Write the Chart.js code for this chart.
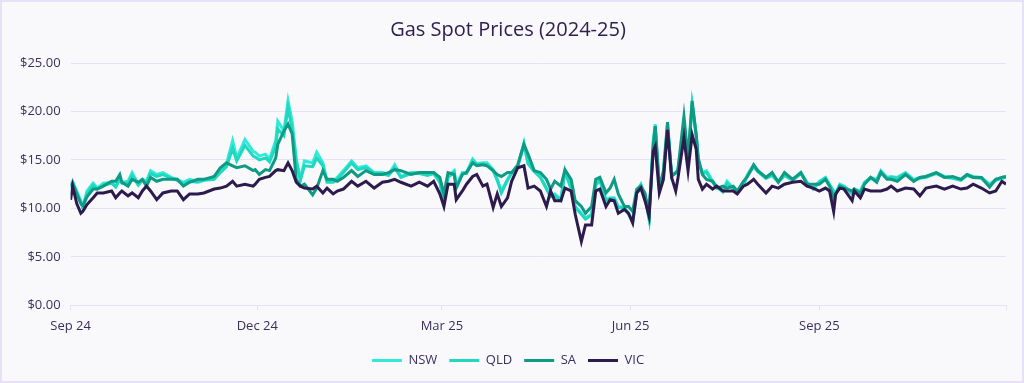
<!DOCTYPE html>
<html>
<head>
<meta charset="utf-8">
<title>Gas Spot Prices (2024-25)</title>
<script src="https://cdn.jsdelivr.net/npm/chart.js@4.4.1/dist/chart.umd.min.js"></script>
<style>
  html, body { margin: 0; padding: 0; background: #f9f9fb; }
  .frame { position: relative; width: 1024px; height: 383px; box-sizing: border-box; border: 2px solid #e6e0f8; background: #f9f9fb; }
  canvas { display: block; }
</style>
</head>
<body>
<div class="frame"><canvas id="gasChart"></canvas></div>
<script>
// days since 1 Sep 2024 for each sample
const sampleDays = [0,1,3,5,6,8,11,13,16,20,
  22,24,25,28,30,33,35,37,39,42,
  45,49,52,55,58,62,65,70,73,76,
  79,81,85,89,90,92,95,97,100,101,
  104,106,108,110,112,114,118,120,123,125,
  128,130,133,137,140,144,148,152,155,158,
  161,166,170,174,177,180,182,184,187,188,
  191,193,196,198,201,203,206,208,210,213,
  215,218,221,223,226,229,232,234,236,239,
  241,244,246,249,251,254,256,258,261,263,
  265,267,270,272,274,276,278,280,282,284,
  285,287,289,291,293,295,296,299,301,303,
  305,306,308,310,313,315,318,320,323,325,
  328,330,333,335,339,342,345,348,352,356,
  359,362,365,368,370,372,373,375,377,381,
  382,385,387,390,393,395,398,400,403,407,
  411,414,417,422,426,430,434,437,440,444,
  448,451,454,456];

const nswPrices = [12.3,12.8,11.8,10.8,10.2,11.8,12.6,12.1,12.6,12.7,
  12.3,13.2,12.7,12.8,13.7,12.5,13.0,12.8,13.9,13.5,
  13.7,13.2,13.0,12.7,13.0,12.8,13.0,13.2,13.9,14.6,
  17.0,15.2,17.1,15.9,15.8,15.4,15.6,15.1,17.0,19.0,
  18.0,21.1,19.0,15.2,13.0,14.9,14.7,15.8,14.7,12.8,
  12.8,13.2,13.9,14.9,14.2,14.4,13.7,13.7,13.5,14.5,
  13.3,13.7,13.7,13.5,13.7,12.8,10.8,13.3,13.9,12.3,
  13.7,13.7,15.1,14.6,14.7,14.7,14.0,13.0,11.8,13.0,
  13.7,14.4,16.8,14.7,13.9,13.3,12.1,11.3,11.5,10.9,
  13.9,12.1,10.2,9.5,9.0,9.4,12.5,13.0,10.9,11.1,
  11.1,10.2,10.1,9.5,8.7,11.8,12.5,11.3,9.0,17.0,
  18.7,12.3,13.5,18.7,13.5,13.7,13.9,18.7,15.0,20.8,
  17.7,14.9,13.7,13.9,12.8,12.3,11.8,12.8,12.1,11.8,
  12.5,13.5,14.5,13.9,13.2,13.5,12.8,13.5,13.0,13.7,
  12.7,12.1,12.8,13.2,12.5,11.8,11.6,12.5,12.3,11.6,
  12.0,11.8,12.7,13.2,13.0,13.9,13.2,13.3,13.2,13.7,
  13.0,13.2,13.3,13.7,13.3,13.2,13.0,13.5,13.3,13.2,
  12.5,13.0,13.2,13.3];

const qldPrices = [12.1,12.6,11.6,10.6,10.0,11.5,12.4,12.0,12.4,12.6,
  12.2,13.0,12.6,12.6,13.4,12.4,12.9,12.6,13.6,13.3,
  13.5,13.1,12.9,12.5,12.8,12.7,12.9,13.0,13.7,14.3,
  16.2,14.9,16.5,15.4,15.3,15.0,15.2,14.8,16.4,18.2,
  17.5,20.4,18.2,14.8,12.9,14.4,14.3,15.2,14.4,12.7,
  12.7,13.0,13.7,14.7,14.0,14.2,13.6,13.6,13.4,14.2,
  13.2,13.6,13.6,13.4,13.6,12.7,10.6,13.2,13.7,12.2,
  13.6,13.6,14.9,14.5,14.6,14.5,13.9,12.9,11.6,12.9,
  13.6,14.3,16.6,14.6,13.8,13.2,12.0,11.2,11.3,10.8,
  13.8,12.0,10.1,9.4,8.9,9.3,12.4,12.9,10.8,11.0,
  11.0,10.1,10.0,9.4,8.6,11.7,12.4,11.2,8.9,16.6,
  18.4,12.2,13.4,18.4,13.4,13.6,13.8,18.5,14.9,20.6,
  17.5,14.8,13.6,13.7,12.7,12.2,11.7,12.6,12.0,11.7,
  12.4,13.4,14.3,13.8,13.1,13.4,12.7,13.4,12.9,13.6,
  12.6,12.0,12.7,13.1,12.4,11.7,11.5,12.4,12.2,11.5,
  11.9,11.7,12.6,13.1,12.9,13.8,13.1,13.2,13.1,13.6,
  12.9,13.1,13.2,13.6,13.2,13.1,12.9,13.4,13.2,13.1,
  12.4,12.9,13.1,13.2];

const saPrices = [12.4,12.6,11.5,10.5,10.3,11.2,12.0,12.0,12.3,12.8,
  12.8,13.5,12.7,12.3,13.0,12.7,13.0,12.3,13.2,12.8,
  13.0,13.0,13.0,12.3,12.7,13.0,13.0,13.3,14.2,14.7,
  14.4,14.2,14.4,13.9,14.0,13.5,14.0,13.9,15.2,16.6,
  18.0,18.7,17.7,13.0,12.3,12.5,11.4,12.1,13.9,13.0,
  13.0,12.8,13.2,13.9,13.3,13.9,13.5,13.5,13.7,14.0,
  13.9,13.5,13.7,13.7,13.7,13.2,11.5,13.7,13.5,12.1,
  13.5,13.7,14.7,14.4,14.5,14.4,13.9,13.5,13.3,13.7,
  13.7,14.5,16.6,15.6,13.9,13.7,13.0,12.0,12.8,12.3,
  14.0,13.0,10.8,10.2,9.5,10.2,13.0,13.2,11.6,12.1,
  13.0,11.5,10.2,10.2,9.7,12.0,12.3,11.6,9.4,16.3,
  18.5,12.1,13.9,18.9,13.3,13.7,13.9,19.5,15.2,21.1,
  17.5,15.2,13.5,13.0,12.8,12.1,12.3,12.1,12.3,11.8,
  12.8,13.3,14.5,13.9,13.2,13.7,12.7,13.7,13.0,13.7,
  12.5,12.5,12.5,13.0,12.3,11.1,11.5,12.3,12.1,11.8,
  12.0,11.5,12.5,13.2,12.7,13.7,13.0,13.0,12.8,13.5,
  12.8,13.2,13.3,13.7,13.2,13.3,13.0,13.5,13.2,13.2,
  12.2,13.0,13.2,13.3];

const vicPrices = [10.9,12.3,10.5,9.5,9.7,10.4,11.1,11.6,11.6,11.8,
  11.1,11.6,11.8,11.3,11.6,11.1,11.8,12.3,11.8,10.9,
  11.6,11.8,11.8,10.9,11.5,11.5,11.6,12.0,12.1,12.3,
  12.8,12.3,12.5,12.3,12.5,13.0,13.2,13.3,13.9,14.0,
  13.9,14.7,13.9,12.7,12.3,12.1,12.0,12.3,11.6,12.1,
  11.5,11.8,12.0,12.8,12.3,12.8,12.1,12.7,12.8,13.0,
  12.7,12.3,12.7,12.3,12.8,11.5,10.2,12.5,12.5,10.9,
  11.8,12.5,13.3,13.5,12.3,12.5,10.1,11.5,10.2,11.1,
  12.8,14.2,14.4,12.1,12.3,11.8,10.2,11.8,10.8,10.8,
  12.1,11.8,9.4,6.6,8.3,8.3,11.8,12.0,10.2,10.9,
  10.8,9.5,9.9,9.5,8.5,11.6,12.1,10.8,9.2,15.9,
  16.4,11.6,13.0,18.1,13.2,11.8,13.0,17.3,13.9,17.6,
  16.1,13.0,12.0,12.5,12.0,12.3,11.8,11.8,11.8,11.5,
  12.3,12.5,13.0,12.5,11.6,12.3,12.1,12.5,12.7,12.8,
  12.3,12.1,11.8,12.1,11.8,9.7,11.5,12.1,12.0,10.8,
  11.8,11.1,12.0,11.8,11.8,11.8,12.0,12.3,11.8,12.1,
  12.0,11.3,12.1,12.3,12.0,12.3,12.0,12.1,12.5,12.1,
  11.6,11.8,12.8,12.5];

// quarter starts (days since 1 Sep 2024) and their tick labels
const quarterDays = [0, 91, 181, 273, 365, 456];
const quarterLabels = ['Sep 24', 'Dec 24', 'Mar 25', 'Jun 25', 'Sep 25', ''];

const textColor = '#3b2f5c';
const gridColor = '#e7e1f7';
const fontFamily = '"Open Sans", "Noto Sans", sans-serif';

function points(values) {
    return sampleDays.map((d, i) => ({ x: d, y: values[i] }));
}

function series(label, values, color, order) {
    return {
        label: label,
        data: points(values),
        borderColor: color,
        backgroundColor: color,
        borderWidth: 3,
        pointRadius: 0,
        tension: 0,
        order: order
    };
}

const ctx = document.getElementById('gasChart').getContext('2d');
new Chart(ctx, {
    type: 'line',
    data: {
        datasets: [
            series('NSW', nswPrices, '#33e9d9', 4),
            series('QLD', qldPrices, '#1fd8c0', 3),
            series('SA', saPrices, '#0f9a83', 2),
            series('VIC', vicPrices, '#2d1b4e', 1)
        ]
    },
    options: {
        responsive: true,
        maintainAspectRatio: false,
        animation: false,
        layout: { padding: { left: 8, right: 16, top: 0, bottom: 4 } },
        plugins: {
            title: {
                display: true,
                text: 'Gas Spot Prices (2024-25)',
                color: '#2e2150',
                font: { family: fontFamily, size: 20, weight: 'normal' },
                padding: { top: 16, bottom: 21 }
            },
            legend: {
                position: 'bottom',
                labels: {
                    color: textColor,
                    font: { family: fontFamily, size: 13 },
                    usePointStyle: true,
                    pointStyle: 'line',
                    pointStyleWidth: 30,
                    padding: 12,
                    sort: (a, b) => a.datasetIndex - b.datasetIndex
                }
            },
            tooltip: { enabled: false }
        },
        scales: {
            x: {
                type: 'linear',
                min: 0,
                max: 456,
                afterBuildTicks: scale => {
                    scale.ticks = quarterDays.map(v => ({ value: v }));
                },
                ticks: {
                    autoSkip: false,
                    maxRotation: 0,
                    padding: 8,
                    color: textColor,
                    font: { family: fontFamily, size: 13 },
                    callback: v => quarterLabels[quarterDays.indexOf(v)] || ''
                },
                grid: { drawOnChartArea: false, drawTicks: true, tickLength: 5, color: gridColor },
                border: { color: gridColor }
            },
            y: {
                min: 0,
                max: 25,
                ticks: {
                    stepSize: 5,
                    padding: 10,
                    color: textColor,
                    font: { family: fontFamily, size: 13 },
                    callback: v => '$' + v.toFixed(2)
                },
                grid: { color: gridColor, drawTicks: false },
                border: { display: false }
            }
        }
    }
});
</script>
</body>
</html>
